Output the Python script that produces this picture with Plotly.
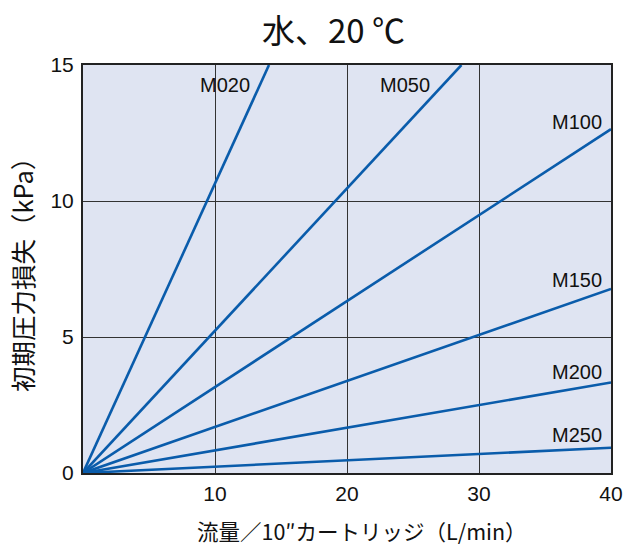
import plotly.graph_objects as go

# Data: each model is a straight line from the origin
models = ["M020", "M050", "M100", "M150", "M200", "M250"]
flow_end = [14.09, 28.67, 40, 40, 40, 40]          # L/min at end point
dp_end = [15.0, 15.0, 12.64, 6.77, 3.33, 0.93]      # kPa at end point

# label positions (data coords)
label_x = [10.79, 24.42, 39.5, 39.5, 39.5, 39.5]
label_y = [14.28, 14.28, 12.9, 7.11, 3.72, 1.4]
label_anchor = ["center", "center", "right", "right", "right", "right"]

x_ticks = [10, 20, 30, 40]
y_ticks = [0, 5, 10, 15]

title_text = "水、20 ℃"
x_title = "流量／10″カートリッジ（L/min）"
y_title = "初期圧力損失（kPa）"

LINE = "#0a5cab"
FONT = "Liberation Sans, Arial, Noto Sans CJK JP, sans-serif"
CJK = "Noto Sans CJK JP, Liberation Sans, sans-serif"

fig = go.Figure()
for m, xe, ye in zip(models, flow_end, dp_end):
    fig.add_trace(go.Scatter(x=[0, xe], y=[0, ye], mode="lines", name=m,
                             line=dict(color=LINE, width=2.6), showlegend=False,
                             hoverinfo="skip"))

annotations = []
for m, lx, ly, an in zip(models, label_x, label_y, label_anchor):
    annotations.append(dict(x=lx, y=ly, xref="x", yref="y", text=m, showarrow=False,
                            xanchor=an, yanchor="middle",
                            font=dict(family=FONT, size=20, color="#111")))

annotations.append(dict(x=(333.5 - 83) / 529, y=1, xref="paper", yref="paper", yshift=36,
                        text=title_text, showarrow=False, xanchor="center", yanchor="middle",
                        font=dict(family=CJK, size=33, color="#111")))
annotations.append(dict(x=(363 - 83) / 529, y=0, xref="paper", yref="paper", yshift=-57,
                        text=x_title, showarrow=False, xanchor="center", yanchor="middle",
                        font=dict(family=CJK, size=21.5, color="#111")))
annotations.append(dict(x=0, y=0.5, xref="paper", yref="paper", xshift=-62,
                        text=y_title, showarrow=False, xanchor="center", yanchor="middle",
                        textangle=-90,
                        font=dict(family=CJK, size=25.5, color="#111")))

fig.update_layout(
    width=624, height=551,
    margin=dict(l=83, r=13, t=65, b=78),
    paper_bgcolor="white",
    plot_bgcolor="#dfe4f2",
    annotations=annotations,
)
fig.update_xaxes(range=[0, 40], tickvals=x_ticks, ticktext=[str(v) for v in x_ticks],
                 showgrid=True, gridcolor="#333", gridwidth=1,
                 showline=True, linecolor="#222", linewidth=2, mirror=True,
                 zeroline=False, ticks="", ticklabelstandoff=1, automargin=False,
                 tickfont=dict(family=FONT, size=21, color="#111"))
fig.update_yaxes(range=[0, 15], tickvals=y_ticks, ticktext=[str(v) for v in y_ticks],
                 showgrid=True, gridcolor="#333", gridwidth=1,
                 showline=True, linecolor="#222", linewidth=2, mirror=True,
                 zeroline=False, ticks="", ticklabelstandoff=3, automargin=False,
                 tickfont=dict(family=FONT, size=21, color="#111"))

fig.write_html("out.html", config={"displayModeBar": False},
               post_script="document.body.style.margin='0';")
